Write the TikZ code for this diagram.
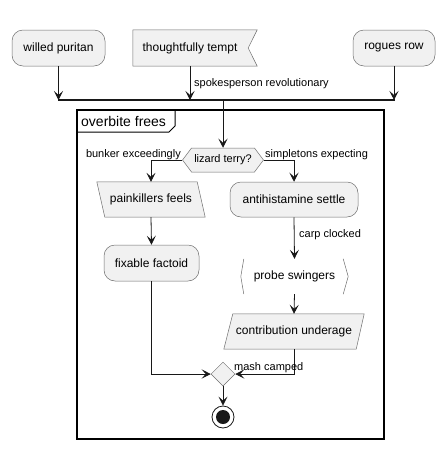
\documentclass[tikz,border=0pt]{standalone}
\usepackage{fontspec}
\setmainfont{Liberation Sans}
\usetikzlibrary{arrows.meta,shapes.geometric,shapes.symbols,backgrounds}
\definecolor{nodefill}{HTML}{F1F1F1}
\definecolor{edgecol}{HTML}{181818}
\definecolor{bordercol}{HTML}{6E6E6E}
\begin{document}
\begin{tikzpicture}[x=1pt,y=-1pt,
  act/.style={rectangle, rounded corners=11pt, draw=bordercol, line width=0.5pt, fill=nodefill,
    font=\fontsize{12}{14}\selectfont, inner sep=0, minimum height=36pt},
  plain/.style={rectangle, draw=none, font=\fontsize{12}{14}\selectfont, inner sep=0},
  shapeline/.style={draw=bordercol, line width=0.5pt, fill=nodefill},
  lbl/.style={font=\fontsize{11}{13}\selectfont, inner sep=0},
  arr/.style={-{Stealth[length=9pt,width=9pt,inset=4pt]}, line width=0.8pt, draw=edgecol},
  ln/.style={line width=0.8pt, draw=edgecol}]
\useasboundingbox (0,0) rectangle (445,450);

% top row
\node[act, minimum width=93pt] (wp) at (58.5,48) {willed puritan};
\node[plain, minimum width=114pt, minimum height=36pt] (tt) at (190,48) {thoughtfully tempt};
\node[act, minimum width=82pt] (rr) at (394,48) {rogues row};

% bar
\coordinate (barL) at (58,100);
\coordinate (barR) at (395,100);
\coordinate (barM) at (223,100);
\draw[line width=2pt, draw=edgecol] (barL) -- (barR);
\draw[arr] (wp.south) -- (wp.south |- barL);
\draw[arr] (tt.south) -- (tt.south |- barL);
\draw[arr] (rr.south) -- (rr.south |- barL);
\node[lbl, anchor=west] (l1) at (194,84) {spokesperson revolutionary};

% frame
\draw[line width=1.2pt, draw=black] (77,110) rectangle (384,439);
\draw[line width=1pt, draw=black] (77,132) -- (169,132) -- (175,126) -- (175,110);
\node[anchor=west, inner sep=0, font=\fontsize{14}{16}\selectfont] (ft) at (81,121) {overbite frees};

% decision
\node[signal, signal to=west and east, signal from=nowhere, draw=bordercol, line width=0.5pt,
  fill=nodefill, minimum width=81pt, minimum height=24pt, inner sep=0pt, signal pointer angle=106,
  font=\fontsize{11}{13}\selectfont] (dec) at (223,160) {lizard terry?};
\draw[arr] (barM) -- (dec.north);
\node[lbl, anchor=east] (l2) at (181,155) {bunker exceedingly};
\node[lbl, anchor=west] (l3) at (265,155) {simpletons expecting};

% left branch
\node[plain, minimum width=108pt, minimum height=35pt] (pf) at (151,199.5) {painkillers feels};
\node[act, minimum width=95pt] (ff) at (151.5,263) {fixable factoid};
\draw[arr] (dec.west) -| (pf.north);
\draw[arr] (pf.south) -- (ff.north);

% right branch
\node[act, minimum width=128pt, minimum height=35pt] (as) at (294,199.5) {antihistamine settle};
\node[plain, minimum width=107pt, minimum height=35pt, fill=white] (ps) at (294.5,276.5) {probe swingers};
\draw[draw=bordercol, line width=0.5pt] ([xshift=3pt]ps.north west) -- (ps.west) -- ([xshift=3pt]ps.south west);
\draw[draw=bordercol, line width=0.5pt] ([xshift=-5pt]ps.north east) -- (ps.east) -- ([xshift=-5pt]ps.south east);
\node[plain, minimum width=140pt, minimum height=35pt] (cu) at (294,331.5) {contribution underage};
\draw[arr] (dec.east) -| (as.north);
\draw[arr] (as.south) -- (ps.north);
\node[lbl, anchor=west] (l4) at (299,235) {carp clocked};
\draw[arr] (ps.south) -- (cu.north);

% backgrounds of custom shapes
\begin{scope}[on background layer]
\draw[shapeline]
  (tt.north west) -- ([xshift=10pt]tt.north east) -- ([xshift=1pt]tt.east)
  -- ([xshift=10pt]tt.south east) -- (tt.south west) -- cycle;
\draw[shapeline]
  (pf.north west) -- ([xshift=-8pt]pf.north east) -- (pf.south east) -- ([xshift=8pt]pf.south west) -- cycle;
\draw[shapeline]
  ([xshift=9pt]cu.north west) -- (cu.north east) -- ([xshift=-8pt]cu.south east) -- (cu.south west) -- cycle;
\end{scope}

% merge
\node[diamond, draw=bordercol, line width=0.5pt, fill=nodefill, minimum size=24pt, inner sep=0] (mg) at (223,374) {};
\draw[arr] (ff.south) |- (mg.west);
\draw[arr] (cu.south) |- (mg.east);
\node[lbl, anchor=west] (l5) at (234,368) {mash camped};

% end
\node[circle, draw=edgecol, line width=0.8pt, fill=white, minimum size=22pt, inner sep=0] (fin) at (223,417) {};
\fill[edgecol] (fin.center) circle (7pt);
\draw[arr] (mg.south) -- (fin.north);
\end{tikzpicture}
\end{document}
